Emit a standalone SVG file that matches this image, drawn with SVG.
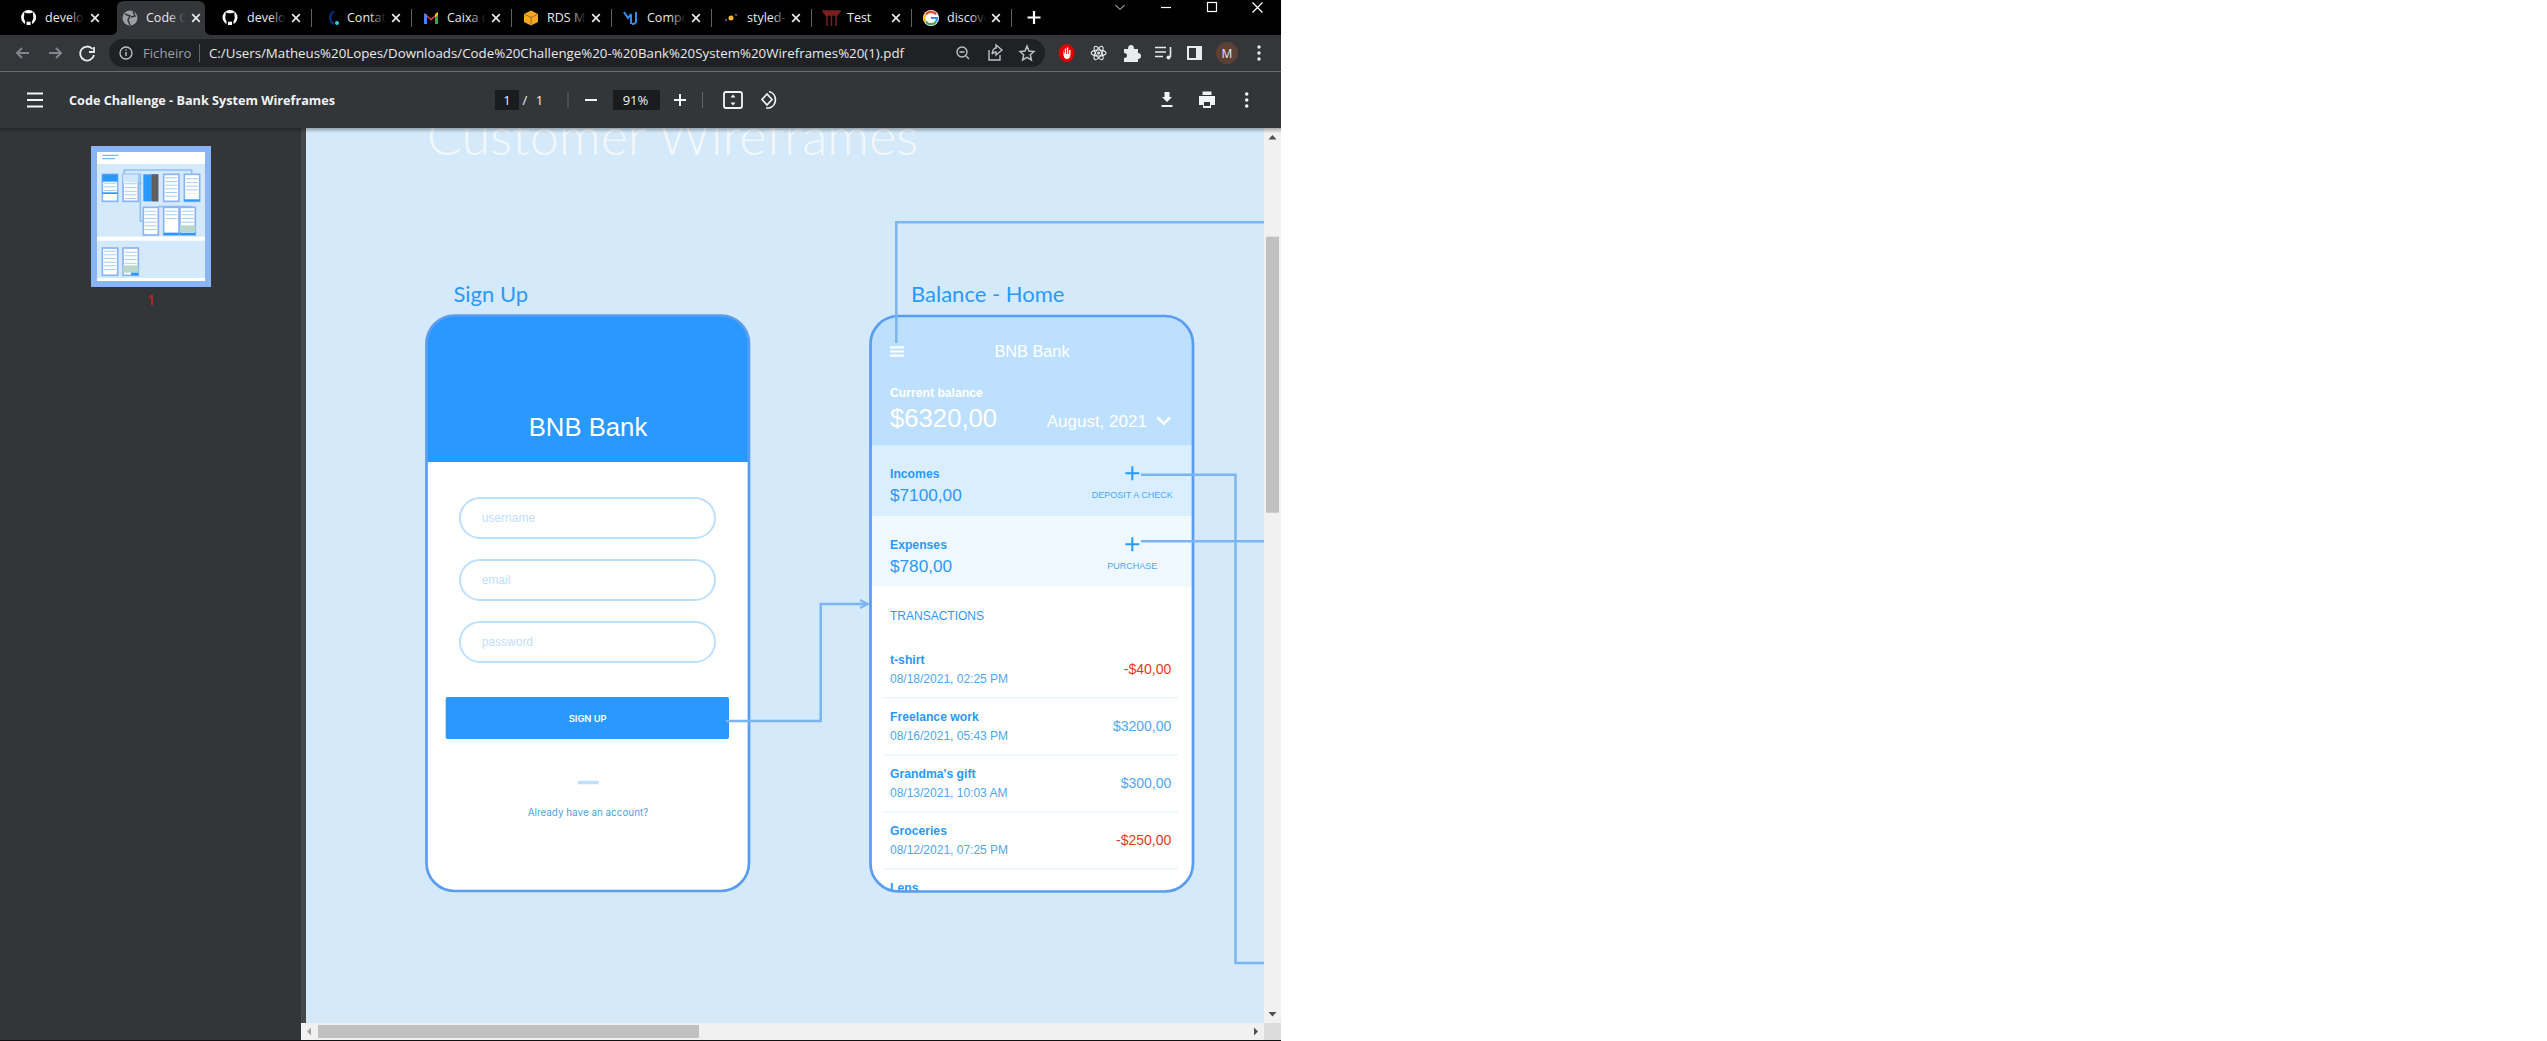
<svg xmlns="http://www.w3.org/2000/svg" width="2547" height="1041" viewBox="0 0 2547 1041">
<style>
.s{font-family:"Liberation Sans",Arial,sans-serif}
.i{font-family:Inter,"Liberation Sans",sans-serif}
.l{font-family:Lato,"Open Sans",sans-serif}
.o{font-family:"Open Sans","Noto Sans",sans-serif}
.tab{font-family:"Open Sans","Noto Sans",sans-serif;font-size:12.5px;fill:#e8eaed}
.x{stroke:#e8eaed;stroke-width:1.7;fill:none}
.sep{stroke:#5f6368;stroke-width:1}
.field{fill:#fff;stroke:#bde0ff;stroke-width:2}
.ph{font-size:12px;fill:#bfe0ff}
.frame{fill:none;stroke:#5a9cf0;stroke-width:2.7}
.lbl{font-size:22px;fill:#2a99ff}
.b{font-weight:700;font-size:12.2px;fill:#2a99ff}
.d{font-size:12px;fill:#4da8f5}
.amt{font-size:14px;text-anchor:end;fill:#4da8f5}
.neg{fill:#e53a1e}
.big{font-size:17.2px;fill:#2a99ff}
.cap{font-size:9px;fill:#4da8f5;text-anchor:middle}
.rule{stroke:#eaf5ff;stroke-width:1.5}
.plus{stroke:#2a99ff;stroke-width:2;fill:none}
.conn{fill:none;stroke:#7ab5f0;stroke-width:2.5}
.ico{stroke:#e8eaed;stroke-width:1.8;fill:none}
.dim{stroke:#80868b;stroke-width:2;fill:none}
.pt{fill:#f1f3f4}
.tf{fill:#fff;stroke:#8ab4f8;stroke-width:5}
.rows{stroke:#a8d0f5;stroke-width:36;stroke-dasharray:3 8;fill:none}
</style>
<defs>
<clipPath id="page"><rect x="306" y="128" width="958" height="895"/></clipPath>
<clipPath id="p1"><rect x="426.5" y="315.5" width="322.5" height="575.5" rx="28"/></clipPath>
<clipPath id="p2"><rect x="870.5" y="316" width="322.5" height="575.5" rx="28"/></clipPath>
<linearGradient id="fade"><stop offset="0" stop-color="#000" stop-opacity="0"/><stop offset=".8" stop-color="#000"/></linearGradient>
<linearGradient id="fadeA"><stop offset="0" stop-color="#35363a" stop-opacity="0"/><stop offset=".8" stop-color="#35363a"/></linearGradient>
<linearGradient id="shade" x1="0" y1="0" x2="0" y2="1"><stop offset="0" stop-color="#000" stop-opacity=".3"/><stop offset="1" stop-color="#000" stop-opacity="0"/></linearGradient>
<filter id="soft" x="-5%" y="-5%" width="110%" height="110%"><feGaussianBlur stdDeviation="1.5"/></filter>
<marker id="arr" viewBox="0 0 10 10" refX="9" refY="5" markerWidth="4" markerHeight="4" orient="auto"><path d="M1 1L9 5L1 9M0 5H9" fill="none" stroke="#7ab5f0" stroke-width="2"/></marker>
<g id="gh"><circle r="7.5" fill="#fff"/><path d="M-3.5 7.5V3.5Q-5.5 1-4.3-3L-4.5-5.2L-2.2-4.2H2.2L4.5-5.2L4.3-3Q5.5 1 3.5 3.5V7.5Z" fill="#000"/><path d="M-2 7.5V4.2H2V7.5Z" fill="#fff"/></g>
<path id="closeX" d="M-3.8-3.8L3.8 3.8M3.8-3.8L-3.8 3.8"/>
<rect id="tf" x="23" y="-12" width="20" height="22" fill="url(#fade)"/>
</defs>
<rect width="2547" height="1041" fill="#fff"/>

<g id="pdf-page">
<rect x="301" y="128" width="980" height="912" fill="#f1f1f1"/>
<rect x="306" y="128" width="958" height="895" fill="#d4eafa"/>
<text class="l" x="427" y="154.7" font-size="52" font-weight="300" fill="#f3f7fa">Customer Wireframes</text>
</g>

<g id="sign-up">
<text class="l lbl" x="453.500" y="301.7">Sign Up</text>
<rect x="426.5" y="315.5" width="322.5" height="575.5" rx="28" fill="#fff"/>
<g clip-path="url(#p1)"><rect x="425" y="314" width="326" height="148" fill="#2a99ff"/></g>
<rect class="frame" x="426.5" y="315.5" width="322.5" height="575.5" rx="28"/>
<text class="s" x="588" y="436" font-size="25.7" fill="#fff" text-anchor="middle">BNB Bank</text>
<rect class="field" x="460" y="498" width="255" height="40" rx="20"/>
<text class="s ph" x="481.7" y="521.7">username</text>
<rect class="field" x="460" y="560" width="255" height="40" rx="20"/>
<text class="s ph" x="481.7" y="584">email</text>
<rect class="field" x="460" y="622" width="255" height="40" rx="20"/>
<text class="s ph" x="481.7" y="646">password</text>
<rect x="445.7" y="697" width="283.3" height="42" rx="2" fill="#2a99ff"/>
<text class="i" x="587.7" y="722" font-size="9.3" font-weight="600" fill="#fff" text-anchor="middle">SIGN UP</text>
<rect x="577.7" y="780.7" width="21" height="3.5" rx="1" fill="#bde0ff"/>
<text class="i" x="588" y="816" font-size="9.9" fill="#4da3ea" text-anchor="middle">Already have an account?</text>
</g>

<g id="balance-home">
<text class="l lbl" x="911" y="301.7">Balance - Home</text>
<rect x="870.5" y="316" width="322.5" height="575.5" rx="28" fill="#fff"/>
<g clip-path="url(#p2)">
<rect x="870" y="314" width="323" height="131.7" fill="#bde0ff"/>
<rect x="870" y="445.7" width="323" height="70.3" fill="#d9eeff"/>
<rect x="870" y="516" width="323" height="70.7" fill="#f0f8ff"/>
<text class="s b" x="890" y="892.2">Lens</text>
</g>
<rect class="frame" x="870.5" y="316" width="322.5" height="575.5" rx="28"/>
<path d="M890 347.3H904M890 351.5H904M890 355.7H904" stroke="#fff" stroke-width="2.2"/>
<text class="s" x="1032" y="357.3" font-size="16.3" fill="#fff" text-anchor="middle">BNB Bank</text>
<text class="s" x="890" y="397.3" font-size="12.2" font-weight="700" fill="#fff">Current balance</text>
<text class="s" x="890" y="426.7" font-size="25.7" fill="#fff">$6320,00</text>
<text class="s" x="1046.7" y="427.3" font-size="17" fill="#fff">August, 2021</text>
<path d="M1157.5 417.5L1163.7 423.7L1170 417.5" stroke="#fff" stroke-width="2.5" fill="none"/>
<text class="s b" x="890" y="477.800">Incomes</text>
<text class="s big" x="890" y="501">$7100,00</text>
<path class="plus" d="M1132.3 466.3V480.3M1125.3 473.3H1139.3"/>
<text class="s cap" x="1132.3" y="498.3">DEPOSIT A CHECK</text>
<text class="s b" x="890" y="548.800">Expenses</text>
<text class="s big" x="890" y="572">$780,00</text>
<path class="plus" d="M1132.3 537.3V551.3M1125.3 544.3H1139.3"/>
<text class="s cap" x="1132.3" y="569.3">PURCHASE</text>
<text class="s" x="890" y="620" font-size="12" fill="#2a99ff">TRANSACTIONS</text>
<text class="s b" x="890" y="664">t-shirt</text>
<text class="s d" x="890" y="683.2">08/18/2021, 02:25 PM</text>
<text class="s amt neg" x="1171.3" y="674">-$40,00</text>
<path class="rule" d="M882.7 697.7H1178"/>
<text class="s b" x="890" y="721">Freelance work</text>
<text class="s d" x="890" y="740.2">08/16/2021, 05:43 PM</text>
<text class="s amt" x="1171.3" y="731">$3200,00</text>
<path class="rule" d="M882.7 754.7H1178"/>
<text class="s b" x="890" y="778">Grandma's gift</text>
<text class="s d" x="890" y="797.2">08/13/2021, 10:03 AM</text>
<text class="s amt" x="1171.3" y="788">$300,00</text>
<path class="rule" d="M882.7 811.7H1178"/>
<text class="s b" x="890" y="835">Groceries</text>
<text class="s d" x="890" y="854.2">08/12/2021, 07:25 PM</text>
<text class="s amt neg" x="1171.3" y="845">-$250,00</text>
<path class="rule" d="M882.7 868.7H1178"/>
</g>

<g id="connectors" clip-path="url(#page)">
<path class="conn" d="M726 721H820.7V604H868" marker-end="url(#arr)"/>
<path class="conn" d="M896.3 343V222.3H1264"/>
<path class="conn" d="M1141 474.7H1235.5V963H1264"/>
<path class="conn" d="M1141 541.3H1264"/>
</g>

<g id="scrollbars">
<rect x="1266" y="236.7" width="13" height="276" fill="#c1c1c1"/>
<path d="M1272.5 135L1276.5 139.5H1268.5Z" fill="#505050"/>
<path d="M1272.5 1016.5L1276.5 1012H1268.5Z" fill="#505050"/>
<rect x="301" y="1023" width="963" height="17" fill="#f1f1f1"/>
<rect x="1264" y="1023" width="17" height="17" fill="#dcdcdc"/>
<rect x="318" y="1025" width="381" height="13" fill="#c1c1c1"/>
<path d="M307 1031.5L311 1027.5V1035.5Z" fill="#a3a3a3"/>
<path d="M1258 1031.5L1254 1027.5V1035.5Z" fill="#505050"/>
</g>

<g id="sidebar">
<rect x="0" y="128" width="301" height="913" fill="#323639"/>
<rect x="301" y="128" width="5" height="895" fill="#45484b"/>
<rect x="91" y="146" width="120" height="141" fill="#8ab4f8"/>
<rect x="97" y="152" width="108" height="129" fill="#fff"/>
<g transform="translate(85 140) scale(.3333)" filter="url(#soft)">
<rect x="36" y="72" width="324" height="218" fill="#d4eafa"/>
<rect x="36" y="302" width="324" height="112" fill="#d4eafa"/>
<path d="M52 46H100M52 56H90" stroke="#7ab8f0" stroke-width="4"/>
<path d="M118 103V90H320V103M170 130H150M166 100V243H175M220 200H320V202" fill="none" stroke="#8fc0f2" stroke-width="5"/>
<rect class="tf" x="52" y="103" width="46" height="81"/><rect x="52" y="103" width="46" height="22" fill="#2a99ff"/><path class="rows" d="M75 128V155"/><rect x="52" y="157" width="46" height="5" fill="#2a99ff"/>
<rect class="tf" x="114" y="103" width="46" height="81"/><rect x="114" y="103" width="46" height="24" fill="#cfe6fb"/><path class="rows" d="M137 130V178"/>
<rect x="175" y="103" width="45" height="81" fill="#2a99ff"/><rect x="200" y="103" width="20" height="81" fill="#5e5e5e"/>
<rect class="tf" x="236" y="103" width="46" height="81"/><path class="rows" d="M259 112V178"/>
<rect class="tf" x="298" y="103" width="46" height="81"/><path class="rows" d="M321 115V160"/><rect x="298" y="178" width="46" height="6" fill="#2a99ff"/>
<rect class="tf" x="175" y="202" width="45" height="83"/><path class="rows" d="M197 212V270"/>
<rect class="tf" x="236" y="202" width="46" height="83"/><path class="rows" d="M259 212V240"/><rect x="236" y="278" width="46" height="7" fill="#2a99ff"/>
<rect class="tf" x="285" y="202" width="46" height="83"/><path class="rows" d="M308 212V250"/><rect x="285" y="256" width="46" height="20" fill="#b8d8cc"/><rect x="285" y="278" width="46" height="7" fill="#2a99ff"/>
<rect class="tf" x="52" y="324" width="46" height="82"/><path class="rows" d="M75 332V398"/>
<rect class="tf" x="114" y="324" width="46" height="82"/><path class="rows" d="M137 335V372"/><rect x="114" y="376" width="46" height="22" fill="#b8d8cc"/><rect x="138" y="398" width="22" height="8" fill="#2a99ff"/>
</g>
<text class="o" x="151" y="305" font-size="14" font-weight="600" fill="#c5221f" text-anchor="middle">1</text>
</g>

<g id="pdf-toolbar">
<rect x="0" y="128" width="1281" height="5" fill="url(#shade)"/>
<rect x="0" y="72" width="1281" height="56" fill="#323639"/>
<path d="M27 93.5H43M27 100H43M27 106.5H43" stroke="#f1f3f4" stroke-width="2"/>
<text class="o pt" x="69" y="105" font-size="13.2" font-weight="700" textLength="266" lengthAdjust="spacingAndGlyphs">Code Challenge - Bank System Wireframes</text>
<rect x="495" y="90" width="24" height="20" fill="#191b1c"/>
<text class="o pt" x="507" y="105" font-size="13" text-anchor="middle">1</text>
<text class="o pt" x="525" y="105" font-size="13" text-anchor="middle">/</text>
<text class="o pt" x="539.5" y="105" font-size="13" text-anchor="middle">1</text>
<path class="sep" d="M568 92V108M702.5 92V108"/>
<path d="M585 100H597" stroke="#f1f3f4" stroke-width="2"/>
<rect x="613" y="90" width="47" height="20" fill="#191b1c"/>
<text class="o pt" x="635.5" y="105" font-size="13" text-anchor="middle">91%</text>
<path d="M680 94V106M674 100H686" stroke="#f1f3f4" stroke-width="2"/>
<rect x="724" y="92" width="18" height="16" rx="2" fill="none" stroke="#f1f3f4" stroke-width="1.8"/>
<path d="M733 94.5L730.5 97.5H735.5ZM733 105.5L730.5 102.5H735.5Z" fill="#f1f3f4"/>
<path d="M767 94L762 99.5L767 105L772 99.5ZM769 91.500A8.500 8.500 0 0 1 769 108L766 108" fill="none" stroke="#f1f3f4" stroke-width="1.7"/>
<path d="M1164.500 92H1169.500V97H1172L1167 102L1162 97H1164.500Z" fill="#f1f3f4"/>
<path d="M1161.500 106H1172.500" stroke="#f1f3f4" stroke-width="2"/>
<path d="M1199 96H1215V105H1211V108H1203V105H1199ZM1202.500 91.500H1211.500V95H1202.500Z" fill="#f1f3f4"/><rect x="1204" y="102" width="6" height="4" fill="#323639"/>
<circle cx="1246.7" cy="94" r="1.8" fill="#f1f3f4"/><circle cx="1246.7" cy="100" r="1.8" fill="#f1f3f4"/><circle cx="1246.7" cy="106" r="1.8" fill="#f1f3f4"/>
</g>

<g id="browser-toolbar">
<rect x="0" y="35" width="1281" height="36" fill="#35363a"/>
<rect x="0" y="71" width="1281" height="1" fill="#6a6c70"/>
<path d="M29 53H17M22 48L17 53L22 58" class="dim"/>
<path d="M49 53H61M56 48L61 53L56 58" class="dim"/>
<path d="M92.500 49A7 7 0 1 0 94 55M94 47V52H89" class="ico"/>
<rect x="109" y="39" width="936" height="28" rx="14" fill="#202124"/>
<circle cx="126" cy="53" r="6" fill="none" stroke="#bdc1c6" stroke-width="1.3"/><path d="M126 52V56M126 49.500V50.800" stroke="#bdc1c6" stroke-width="1.4"/>
<text class="o" x="143" y="57.500" font-size="13.500" fill="#9aa0a6" textLength="48.500" lengthAdjust="spacingAndGlyphs">Ficheiro</text>
<path class="sep" d="M199.500 44V62"/>
<text class="o" x="209" y="57.500" font-size="13.500" fill="#e8eaed" textLength="695" lengthAdjust="spacingAndGlyphs">C:/Users/Matheus%20Lopes/Downloads/Code%20Challenge%20-%20Bank%20System%20Wireframes%20(1).pdf</text>
<circle cx="962" cy="52" r="5" fill="none" stroke="#bdc1c6" stroke-width="1.400"/><path d="M966 56L969 59M959.500 52H964.500" stroke="#bdc1c6" stroke-width="1.400"/>
<path d="M989 50V60H1000V55M992 54Q993 48 996 48V45L1002 50L996 55V52Q993.500 52 992 54Z" fill="none" stroke="#bdc1c6" stroke-width="1.400"/>
<path d="M1027 46L1029 51L1034 51.500L1030.300 54.800L1031.400 60L1027 57.300L1022.600 60L1023.700 54.800L1020 51.500L1025 51Z" fill="none" stroke="#bdc1c6" stroke-width="1.500"/>
<ellipse cx="1066.600" cy="53" rx="8" ry="9" fill="#e00000"/><path d="M1063.500 50V55Q1064 59 1067 59Q1070 59 1070.500 55V50H1069V54H1068.300V47.500H1066.800V54H1066V48.500H1064.800V54.500Z" fill="#fff"/>
<g fill="none" stroke="#e8eaed" stroke-width="1.100"><ellipse cx="1098.600" cy="53" rx="7.500" ry="3"/><ellipse cx="1098.600" cy="53" rx="7.500" ry="3" transform="rotate(60 1098.600 53)"/><ellipse cx="1098.600" cy="53" rx="7.500" ry="3" transform="rotate(120 1098.600 53)"/></g><circle cx="1098.600" cy="53" r="1.500" fill="#e8eaed"/>
<path d="M1124 49H1128Q1128 45 1131 45Q1134 45 1134 49H1138V53Q1141 53 1141 56Q1141 59 1138 59V62H1124V58Q1127 58 1127 55.500Q1127 53 1124 53Z" fill="#e8eaed"/>
<path d="M1155 47.500H1166M1155 52H1166M1155 56.500H1163" stroke="#e8eaed" stroke-width="1.600"/><path d="M1170.500 47V57" stroke="#e8eaed" stroke-width="1.600"/><circle cx="1168.500" cy="57.500" r="2" fill="#e8eaed"/>
<rect x="1187" y="46" width="15" height="14" fill="#e8eaed"/><rect x="1189" y="48" width="7" height="10" fill="#35363a"/>
<circle cx="1227" cy="53" r="11" fill="#5d4037"/>
<text class="o" x="1227" y="57.500" font-size="12" fill="#e8eaed" text-anchor="middle">M</text>
<circle cx="1259" cy="47" r="1.700" fill="#e8eaed"/><circle cx="1259" cy="53" r="1.700" fill="#e8eaed"/><circle cx="1259" cy="59" r="1.700" fill="#e8eaed"/>
</g>

<g id="tab-strip">
<rect x="0" y="0" width="1281" height="35" fill="#000"/>
<path d="M110 35Q117 35 117 29V8Q117 1 124 1H198Q205 1 205 8V29Q205 35 212.500 35Z" fill="#35363a"/>
<use href="#gh" x="28.600" y="17.500"/>
<text class="tab" x="45" y="22">develo</text><use href="#tf" x="45" y="18"/>
<use href="#closeX" class="x" x="95" y="18"/>
<circle cx="130" cy="18" r="7.500" fill="#9aa0a6"/><path d="M125 14L130 16L128 20L130 25M133 11.500L135 16L131 17" stroke="#35363a" stroke-width="1.500" fill="none"/>
<text class="tab" x="146" y="22">Code C</text><rect x="169" y="6" width="20" height="22" fill="url(#fadeA)"/>
<use href="#closeX" class="x" x="196" y="18"/>
<use href="#gh" x="230" y="17.500"/>
<text class="tab" x="247" y="22">develo</text><use href="#tf" x="247" y="18"/>
<use href="#closeX" class="x" x="296" y="18"/>
<path class="sep" d="M311.500 9V27M411.500 9V27M511.500 9V27M611.500 9V27M711.500 9V27M811.500 9V27M911.500 9V27M1011.500 9V27"/>
<path d="M334 11.500A7 7 0 0 0 334 24" fill="none" stroke="#0b2a78" stroke-width="2.500"/><circle cx="337" cy="23" r="2" fill="#1ad0e8"/>
<text class="tab" x="347" y="22">Contat</text><use href="#tf" x="347" y="18"/>
<use href="#closeX" class="x" x="396" y="18"/>
<path d="M424 24V13L431 18.500L438 13V24H435V17L431 20.500L427 17V24Z" fill="#ea4335"/><rect x="424" y="14" width="3" height="10" fill="#4285f4"/><rect x="435" y="14" width="3" height="10" fill="#34a853"/><path d="M435 14L438 12V15L435 17Z" fill="#fbbc04"/>
<text class="tab" x="447" y="22">Caixa d</text><use href="#tf" x="447" y="18"/>
<use href="#closeX" class="x" x="496" y="18"/>
<path d="M524 14L531 10.500L538 14V22L531 25.500L524 22Z" fill="#f5a623"/><path d="M524 14L531 17.500L538 14M531 17.500V25.500" fill="none" stroke="#8a5a10" stroke-width=".8"/>
<text class="tab" x="547" y="22">RDS M</text><use href="#tf" x="547" y="18"/>
<use href="#closeX" class="x" x="596" y="18"/>
<path d="M624 12L628 18L631 14M631 14V24M636 12V21Q636 24 632 24" fill="none" stroke="#2f8fe8" stroke-width="2"/>
<text class="tab" x="647" y="22">Compc</text><use href="#tf" x="647" y="18"/>
<use href="#closeX" class="x" x="696" y="18"/>
<circle cx="731" cy="18" r="2.500" fill="#f5b82e"/><circle cx="726" cy="20" r="1.200" fill="#7a3a8a"/><circle cx="736" cy="15" r="1.200" fill="#7a3a8a"/>
<text class="tab" x="747" y="22">styled-</text><use href="#tf" x="749" y="18"/>
<use href="#closeX" class="x" x="796" y="18"/>
<path d="M823 11H840L838.500 13.500H824.500ZM825 15H838M827 13.500V26M831.500 13.500V26M836 13.500V26" stroke="#7c1f1f" stroke-width="1.500" fill="#7c1f1f"/>
<text class="tab" x="847" y="22">Test</text>
<use href="#closeX" class="x" x="896" y="18"/>
<circle cx="931" cy="18" r="8" fill="#fff"/><path d="M936 14.500A6 6 0 0 0 926 14.500" fill="none" stroke="#ea4335" stroke-width="2.200"/><path d="M925.500 14.500A6 6 0 0 0 925.500 21.500" fill="none" stroke="#fbbc04" stroke-width="2.200"/><path d="M926 21.500A6 6 0 0 0 936 21.500" fill="none" stroke="#34a853" stroke-width="2.200"/><path d="M931 18H937Q937 20 936 21.500" fill="none" stroke="#4285f4" stroke-width="2.200"/>
<text class="tab" x="947" y="22">discove</text><use href="#tf" x="947" y="18"/>
<use href="#closeX" class="x" x="996" y="18"/>
<path d="M1034 11V24M1027.500 17.500H1040.500" stroke="#fff" stroke-width="2.200"/>
<path d="M1115.500 5L1120 9.500L1124.500 5" stroke="#e8eaed" fill="none"/>
<path d="M1161 7.500H1171" stroke="#fff" stroke-width="1.200"/>
<rect x="1207.500" y="2.500" width="9" height="9" fill="none" stroke="#fff" stroke-width="1.200"/>
<path d="M1252.500 2.500L1262.500 12.500M1262.500 2.500L1252.500 12.500" stroke="#fff" stroke-width="1.200"/>
</g>
<rect x="0" y="1040" width="1281" height="1" fill="#111"/>
</svg>
